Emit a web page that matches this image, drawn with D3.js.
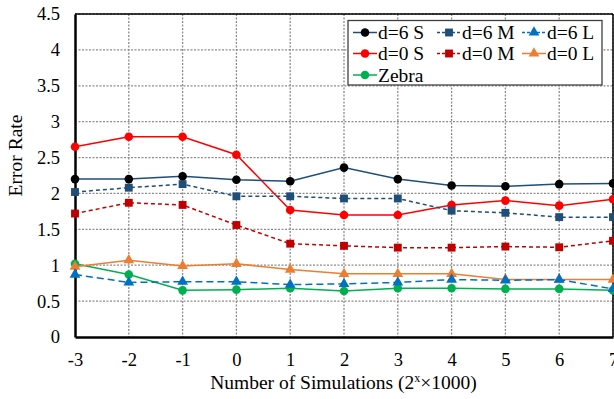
<!DOCTYPE html>
<html>
<head>
<meta charset="utf-8">
<script src="https://cdn.jsdelivr.net/npm/d3@7"></script>
<style>
  body { margin: 0; background: #fff; }
</style>
</head>
<body>
<div id="chart"></div>
<script>
// x values (2^x * 1000 simulations)
var xVals = [-3, -2, -1, 0, 1, 2, 3, 4, 5, 6, 7];
var yTicks = [0, 0.5, 1, 1.5, 2, 2.5, 3, 3.5, 4, 4.5];

// series values
var d6S = [2.20, 2.20, 2.24, 2.19, 2.17, 2.36, 2.20, 2.11, 2.10, 2.13, 2.14];
var d6M = [2.02, 2.08, 2.13, 1.96, 1.96, 1.93, 1.93, 1.76, 1.73, 1.67, 1.67];
var d6L = [0.87, 0.76, 0.77, 0.77, 0.73, 0.74, 0.76, 0.80, 0.79, 0.80, 0.67];
var d0S = [2.65, 2.79, 2.79, 2.54, 1.77, 1.70, 1.70, 1.84, 1.90, 1.83, 1.92];
var d0M = [1.72, 1.87, 1.84, 1.56, 1.30, 1.27, 1.245, 1.245, 1.26, 1.25, 1.34];
var d0L = [0.98, 1.07, 0.99, 1.02, 0.94, 0.88, 0.88, 0.88, 0.80, 0.80, 0.80];
var zebra = [1.02, 0.87, 0.65, 0.66, 0.68, 0.64, 0.68, 0.68, 0.67, 0.67, 0.65];

var seriesNames = ["d=6 S", "d=6 M", "d=6 L", "d=0 S", "d=0 M", "d=0 L", "Zebra"];

// styling per series
var series = [
    { name: seriesNames[0], values: d6S, line: "#1f4e79", fill: "#000000", shape: "circle", dash: null },
    { name: seriesNames[1], values: d6M, line: "#1f4e79", fill: "#1f4e79", shape: "square", dash: "4,3" },
    { name: seriesNames[2], values: d6L, line: "#0070c0", fill: "#0070c0", shape: "triangle", dash: "7,4" },
    { name: seriesNames[3], values: d0S, line: "#ff0000", fill: "#ff0000", shape: "circle", dash: null },
    { name: seriesNames[4], values: d0M, line: "#c00000", fill: "#c00000", shape: "square", dash: "4,3" },
    { name: seriesNames[5], values: d0L, line: "#ed7d31", fill: "#ed7d31", shape: "triangle", dash: null },
    { name: seriesNames[6], values: zebra, line: "#00b050", fill: "#00b050", shape: "circle", dash: null }
];

var FONT = "'Liberation Serif', 'Times New Roman', serif";

// set the dimensions and margins of the graph
var margin = { top: 14, right: 1, bottom: 62, left: 75 },
    width = 614 - margin.left - margin.right,
    height = 399 - margin.top - margin.bottom;

var svg = d3.select("#chart")
    .append("svg")
    .attr("width", 614)
    .attr("height", 399)
    .attr("font-family", FONT)
    .append("g")
    .attr("transform", "translate(" + margin.left + "," + margin.top + ")");

var x = d3.scaleLinear().domain([-3, 7]).range([0, width]);
var y = d3.scaleLinear().domain([0, 4.5]).range([height, 0]);

// grid
svg.append("g")
    .selectAll("line")
    .data(yTicks.slice(1))
    .enter().append("line")
    .attr("x1", 0).attr("x2", width)
    .attr("y1", function (d) { return y(d); })
    .attr("y2", function (d) { return y(d); })
    .attr("stroke", "#8c8c8c")
    .attr("stroke-width", 1.3)
    .attr("stroke-dasharray", "2,1.5");

svg.append("g")
    .selectAll("line")
    .data(xVals.slice(1))
    .enter().append("line")
    .attr("y1", 0).attr("y2", height)
    .attr("x1", function (d) { return x(d); })
    .attr("x2", function (d) { return x(d); })
    .attr("stroke", "#8c8c8c")
    .attr("stroke-width", 1.3)
    .attr("stroke-dasharray", "2,1.5");

// frame top / right
svg.append("line").attr("x1", 0).attr("x2", width).attr("y1", 0).attr("y2", 0)
    .attr("stroke", "#000").attr("stroke-width", 1.5);
svg.append("line").attr("x1", width).attr("x2", width).attr("y1", 0).attr("y2", height)
    .attr("stroke", "#000").attr("stroke-width", 1.5);

// axes
var xAxis = svg.append("g")
    .attr("transform", "translate(0," + height + ")")
    .call(d3.axisBottom(x).tickValues(xVals).tickSize(0).tickPadding(12)
        .tickFormat(function (d) { return String(d); }));
var yAxis = svg.append("g")
    .call(d3.axisLeft(y).tickValues(yTicks).tickSize(0).tickPadding(15)
        .tickFormat(function (d) { return String(d); }));

[xAxis, yAxis].forEach(function (a) {
    a.attr("font-family", FONT).attr("font-size", 18.5);
    a.select(".domain").attr("stroke", "#000").attr("stroke-width", 2.5);
    a.selectAll("text").attr("fill", "#000");
});
xAxis.selectAll("text").attr("dy", "0.9em");

// lines
var line = d3.line()
    .x(function (d, i) { return x(xVals[i]); })
    .y(function (d) { return y(d); });

var symbolFor = function (shape) {
    if (shape === "square") return d3.symbol().type(d3.symbolSquare).size(62);
    if (shape === "triangle") return d3.symbol().type(d3.symbolTriangle).size(50);
    return d3.symbol().type(d3.symbolCircle).size(58);
};

// draw in reverse so d=6 S stays on top
series.slice().reverse().forEach(function (s) {
    svg.append("path")
        .datum(s.values)
        .attr("fill", "none")
        .attr("stroke", s.line)
        .attr("stroke-width", 1.5)
        .attr("stroke-dasharray", s.dash)
        .attr("d", line);

    svg.selectAll(null)
        .data(s.values)
        .enter().append("path")
        .attr("d", symbolFor(s.shape))
        .attr("transform", function (d, i) { return "translate(" + x(xVals[i]) + "," + y(d) + ")"; })
        .attr("fill", s.fill);
});

// axis titles
svg.append("text")
    .attr("transform", "rotate(-90)")
    .attr("x", -141.5)
    .attr("y", -53)
    .attr("text-anchor", "middle")
    .attr("font-size", 19.5)
    .text("Error Rate");

var xt = svg.append("text")
    .attr("x", width / 2 - 0.5)
    .attr("y", height + 52)
    .attr("text-anchor", "middle")
    .attr("font-size", 19.5);
xt.append("tspan").text("Number of Simulations (2");
xt.append("tspan").attr("dy", -7).attr("font-size", 12).text("x");
xt.append("tspan").attr("dy", 7).text("\u00d71000)");

// legend
var lg = svg.append("g").attr("transform", "translate(" + (348 - margin.left) + "," + (20.5 - margin.top) + ")");
lg.append("rect")
    .attr("width", 254).attr("height", 64.5)
    .attr("fill", "#fff")
    .attr("stroke", "#404040")
    .attr("stroke-width", 1.3);

var colX = [5, 89, 174];
var rowY = [12, 33, 54.5];
series.forEach(function (s, i) {
    var cx = colX[i % 3], cy = rowY[Math.floor(i / 3)];
    var item = lg.append("g").attr("transform", "translate(" + cx + "," + cy + ")");
    item.append("line")
        .attr("x1", 0).attr("x2", 24).attr("y1", 0).attr("y2", 0)
        .attr("stroke", s.line)
        .attr("stroke-width", 1.5)
        .attr("stroke-dasharray", s.dash ? "3,2" : null);
    item.append("path")
        .attr("d", symbolFor(s.shape))
        .attr("transform", "translate(12,0)")
        .attr("fill", s.fill);
    item.append("text")
        .attr("x", 25)
        .attr("y", 0)
        .attr("dy", "0.35em")
        .attr("font-size", 19.5)
        .text(s.name);
});
</script>
</body>
</html>
